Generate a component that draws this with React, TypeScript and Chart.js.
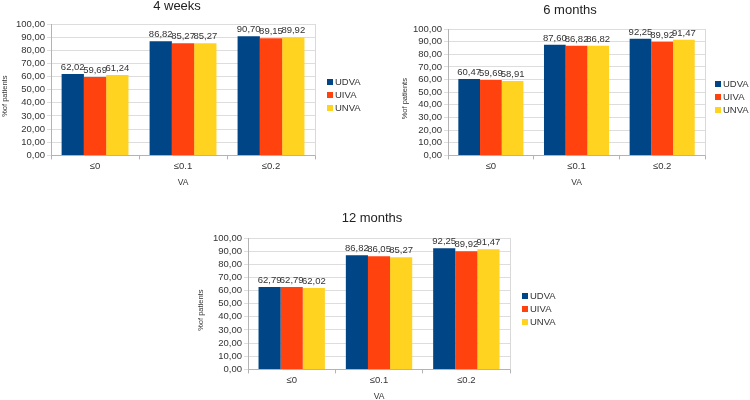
import React, { useEffect, useRef } from "react";
import { Chart, registerables } from "chart.js";

Chart.register(...registerables);

const categories = ["≤0", "≤0.1", "≤0.2"];
const seriesNames = ["UDVA", "UIVA", "UNVA"];
const seriesColors = ["#004586", "#ff420e", "#ffd320"];
const yTicks = [0, 10, 20, 30, 40, 50, 60, 70, 80, 90, 100];

const weeks4UDVA = [62.02, 86.82, 90.7];
const weeks4UIVA = [59.69, 85.27, 89.15];
const weeks4UNVA = [61.24, 85.27, 89.92];

const months6UDVA = [60.47, 87.6, 92.25];
const months6UIVA = [59.69, 86.82, 89.92];
const months6UNVA = [58.91, 86.82, 91.47];

const months12UDVA = [62.79, 86.82, 92.25];
const months12UIVA = [62.79, 86.05, 89.92];
const months12UNVA = [62.02, 85.27, 91.47];

const SANS = "'Liberation Sans', Arial, sans-serif";
const SMALL = 9.5;
const TEXT = "#333333";

const fmt = (v: number) => v.toFixed(2).replace(".", ",");

const valueLabels = {
  id: "valueLabels",
  afterDatasetsDraw(chart: any) {
    const ctx = chart.ctx;
    ctx.save();
    ctx.font = `${SMALL}px ${SANS}`;
    ctx.fillStyle = TEXT;
    ctx.textAlign = "center";
    ctx.textBaseline = "bottom";
    chart.data.datasets.forEach((ds: any, i: number) => {
      const meta = chart.getDatasetMeta(i);
      meta.data.forEach((el: any, j: number) => {
        ctx.fillText(fmt(ds.data[j]), el.x, el.y - 2);
      });
    });
    ctx.restore();
  },
};

const frame = {
  id: "frame",
  beforeDatasetsDraw(chart: any) {
    const { ctx, chartArea } = chart;
    ctx.save();
    ctx.strokeStyle = "#d9d9d9";
    ctx.lineWidth = 1;
    ctx.beginPath();
    ctx.moveTo(Math.round(chartArea.right) + 0.5, chartArea.top);
    ctx.lineTo(Math.round(chartArea.right) + 0.5, chartArea.bottom);
    ctx.stroke();
    ctx.restore();
  },
};

const panelDecor = {
  id: "panelDecor",
  afterDraw(chart: any, _args: any, opts: any) {
    const { ctx, chartArea } = chart;
    const cyArea = (chartArea.top + chartArea.bottom) / 2;
    ctx.save();
    // title
    ctx.font = `13px ${SANS}`;
    ctx.fillStyle = "#222222";
    ctx.textAlign = "center";
    ctx.textBaseline = "middle";
    ctx.fillText(opts.title, opts.titleX, opts.titleY);
    // y axis title
    ctx.save();
    ctx.font = `7.5px ${SANS}`;
    ctx.fillStyle = TEXT;
    ctx.translate(opts.yTitleX, cyArea + 6.5);
    ctx.rotate(-Math.PI / 2);
    ctx.fillText("%of patients", 0, 0);
    ctx.restore();
    // legend
    ctx.font = `${SMALL}px ${SANS}`;
    ctx.textAlign = "left";
    ctx.textBaseline = "middle";
    const cy = cyArea + 5;
    const x = Math.round(chartArea.right) + opts.legendGap;
    chart.data.datasets.forEach((ds: any, i: number) => {
      const y = Math.round(cy + (i - 1) * 13);
      ctx.fillStyle = ds.backgroundColor;
      ctx.fillRect(x, y - 3, 6, 6);
      ctx.fillStyle = TEXT;
      ctx.fillText(ds.label, x + 8, y + 0.5);
    });
    ctx.restore();
  },
};

type Props = {
  title: string;
  a: number[];
  b: number[];
  c: number[];
  left: number;
  top: number;
  width: number;
  height: number;
  pad: { top: number; right: number; bottom: number; left: number };
  titleX: number;
  titleY: number;
  yTitleX: number;
  legendGap: number;
};

function BarPanel({ title, a, b, c, left, top, width, height, pad, titleX, titleY, yTitleX, legendGap }: Props) {
  const ref = useRef<HTMLCanvasElement>(null);
  useEffect(() => {
    const series = [a, b, c];
    const chart = new Chart(ref.current as HTMLCanvasElement, {
      type: "bar",
      data: {
        labels: categories,
        datasets: seriesNames.map((n, i) => ({
          label: n,
          data: series[i],
          backgroundColor: seriesColors[i],
          borderWidth: 0,
          categoryPercentage: 0.76,
          barPercentage: 1.0,
        })),
      },
      options: {
        animation: false,
        responsive: false,
        maintainAspectRatio: false,
        layout: { padding: pad },
        plugins: {
          title: { display: false },
          legend: { display: false },
          tooltip: { enabled: false },
          panelDecor: { title, titleX, titleY, yTitleX, legendGap },
        } as any,
        scales: {
          x: {
            grid: {
              display: true,
              offset: true,
              drawOnChartArea: false,
              drawTicks: true,
              tickLength: 4,
              color: "#b3b3b3",
            },
            border: { display: true, color: "#b3b3b3" },
            ticks: { color: TEXT, font: { family: SANS, size: SMALL }, padding: 1 },
            title: {
              display: true,
              text: "VA",
              color: TEXT,
              font: { family: SANS, size: 8.5 },
              padding: { top: 5, bottom: 0 },
            },
          },
          y: {
            min: 0,
            max: 100,
            afterBuildTicks: (axis: any) => {
              axis.ticks = yTicks.map((v) => ({ value: v }));
            },
            grid: { color: "#dddddd", tickLength: 4 },
            border: { display: true, color: "#b3b3b3" },
            ticks: {
              autoSkip: false,
              color: TEXT,
              font: { family: SANS, size: SMALL },
              padding: 2,
              callback: (v: any) => fmt(Number(v)),
            },
            title: { display: false },
          },
        },
      },
      plugins: [valueLabels, frame, panelDecor],
    });
    return () => chart.destroy();
  }, []);
  return (
    <div style={{ position: "absolute", left, top, width, height }}>
      <canvas ref={ref} width={width} height={height} style={{ width, height, display: "block" }} />
    </div>
  );
}

export default function App() {
  return (
    <div style={{ position: "absolute", left: 0, top: 0, width: 750, height: 400, background: "#ffffff", overflow: "hidden" }}>
      <BarPanel
        title="4 weeks"
        a={weeks4UDVA}
        b={weeks4UIVA}
        c={weeks4UNVA}
        left={0}
        top={0}
        width={372}
        height={192}
        pad={{ top: 24, right: 57, bottom: 4, left: 14 }}
        titleX={177}
        titleY={6}
        yTitleX={5}
        legendGap={12}
      />
      <BarPanel
        title="6 months"
        a={months6UDVA}
        b={months6UIVA}
        c={months6UNVA}
        left={375}
        top={0}
        width={375}
        height={192}
        pad={{ top: 29, right: 45, bottom: 4, left: 36 }}
        titleX={195}
        titleY={10}
        yTitleX={30}
        legendGap={10}
      />
      <BarPanel
        title="12 months"
        a={months12UDVA}
        b={months12UIVA}
        c={months12UNVA}
        left={180}
        top={200}
        width={400}
        height={202}
        pad={{ top: 38, right: 70, bottom: 0, left: 31 }}
        titleX={192}
        titleY={18}
        yTitleX={21}
        legendGap={12}
      />
    </div>
  );
}
